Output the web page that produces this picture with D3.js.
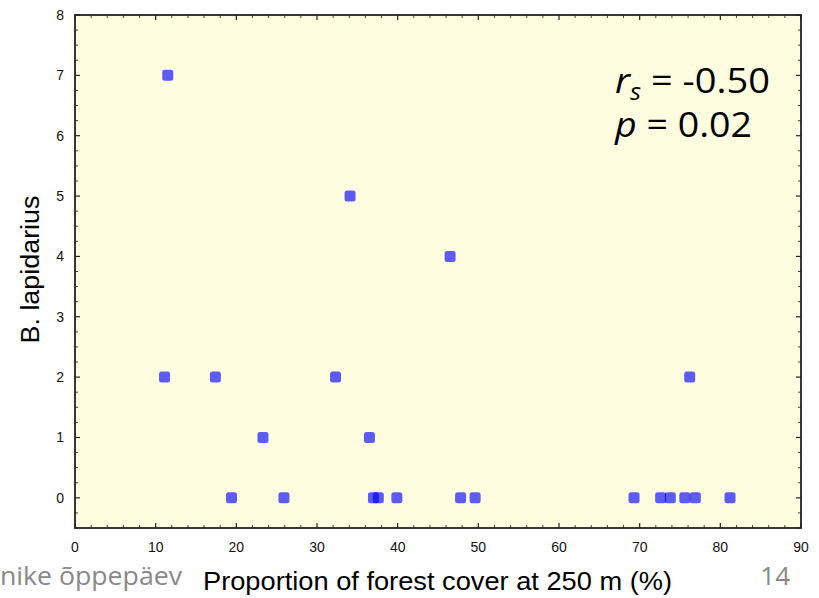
<!DOCTYPE html>
<html>
<head>
<meta charset="utf-8">
<script src="https://cdn.jsdelivr.net/npm/d3@7"></script>
<style>
  body { margin: 0; background: #fff; }
  svg { display: block; }
</style>
</head>
<body>
<div id="chart-area"></div>
<script>
// forest cover (%) vs. B. lapidarius count
var forestCover = [11.5, 11.1, 17.4, 19.4, 23.3, 25.9, 32.3, 34.1, 36.5, 37.0, 37.6, 39.9,
                   46.5, 47.8, 49.6, 69.3, 72.6, 73.8, 75.6, 76.9, 76.2, 81.2];
var lapidarius  = [7, 2, 2, 0, 1, 0, 2, 5, 1, 0, 0, 0,
                   4, 0, 0, 0, 0, 0, 0, 0, 2, 0];
var xTicks = [0, 10, 20, 30, 40, 50, 60, 70, 80, 90];
var yTicks = [0, 1, 2, 3, 4, 5, 6, 7, 8];

var width = 819, height = 598;
var margin = {top: 15, right: 18, bottom: 70, left: 75};

var svg = d3.select("#chart-area").append("svg")
     .attr("width", width)
     .attr("height", height);

var x = d3.scaleLinear()
     .domain([0, 90])
     .range([margin.left, width - margin.right]);

var y = d3.scaleLinear()
     .domain([-0.5, 8])
     .range([height - margin.bottom, margin.top]);

// plot background
svg.append("rect")
     .attr("x", x(0))
     .attr("y", y(8))
     .attr("width", x(90) - x(0))
     .attr("height", y(-0.5) - y(8))
     .attr("fill", "#fffde0");

// ticks pointing inward on all four sides
var xMinor = d3.range(0, 91, 2).filter((d) => d % 10 !== 0);
var yMinor = d3.range(-0.5, 8.01, 0.25).filter((d) => d % 1 !== 0);

function xAxis(pos, dir, labels) {
     var g = svg.append("g").attr("transform", "translate(0," + pos + ")");
     g.selectAll(".maj").data(xTicks).enter().append("line")
          .attr("x1", (d) => x(d)).attr("x2", (d) => x(d))
          .attr("y1", 0).attr("y2", dir * 5)
          .attr("stroke", "#222").attr("stroke-width", 1.2);
     g.selectAll(".min").data(xMinor).enter().append("line")
          .attr("x1", (d) => x(d)).attr("x2", (d) => x(d))
          .attr("y1", 0).attr("y2", dir * 3)
          .attr("stroke", "#444").attr("stroke-width", 1);
     if (labels) {
          g.selectAll("text").data(xTicks).enter().append("text")
               .attr("x", (d) => x(d))
               .attr("y", 24)
               .attr("text-anchor", "middle")
               .attr("font-family", "Liberation Sans, Arial, sans-serif")
               .attr("font-size", 14)
               .attr("fill", "#111")
               .text((d) => d);
     }
}

function yAxis(pos, dir, labels) {
     var g = svg.append("g").attr("transform", "translate(" + pos + ",0)");
     g.selectAll(".maj").data(yTicks).enter().append("line")
          .attr("y1", (d) => y(d)).attr("y2", (d) => y(d))
          .attr("x1", 0).attr("x2", dir * 5)
          .attr("stroke", "#222").attr("stroke-width", 1.2);
     g.selectAll(".min").data(yMinor).enter().append("line")
          .attr("y1", (d) => y(d)).attr("y2", (d) => y(d))
          .attr("x1", 0).attr("x2", dir * 3)
          .attr("stroke", "#444").attr("stroke-width", 1);
     if (labels) {
          g.selectAll("text").data(yTicks).enter().append("text")
               .attr("x", -11)
               .attr("y", (d) => y(d) + 5)
               .attr("text-anchor", "end")
               .attr("font-family", "Liberation Sans, Arial, sans-serif")
               .attr("font-size", 14)
               .attr("fill", "#111")
               .text((d) => d);
     }
}

xAxis(y(-0.5), -1, true);
xAxis(y(8), 1, false);
yAxis(x(0), 1, true);
yAxis(x(90), -1, false);

// frame
svg.append("rect")
     .attr("x", x(0))
     .attr("y", y(8))
     .attr("width", x(90) - x(0))
     .attr("height", y(-0.5) - y(8))
     .attr("fill", "none")
     .attr("stroke", "#222")
     .attr("stroke-width", 1.8);

// points
var pts = forestCover.map((d, i) => ({x: d, y: lapidarius[i]}));
svg.selectAll(".pt").data(pts).enter().append("rect")
     .attr("class", "pt")
     .attr("x", (d) => x(d.x) - 5.5)
     .attr("y", (d) => y(d.y) - 5.5)
     .attr("width", 11)
     .attr("height", 11)
     .attr("rx", 2.5)
     .attr("fill", "#0000ff")
     .attr("fill-opacity", 0.64);

// axis titles
svg.append("text")
     .attr("transform", "translate(39," + ((y(8) + y(-0.5)) / 2 - 2) + ") rotate(-90)")
     .attr("text-anchor", "middle")
     .attr("font-family", "Liberation Sans, Arial, sans-serif")
     .attr("font-size", 26)
     .attr("textLength", 148)
     .attr("lengthAdjust", "spacingAndGlyphs")
     .attr("fill", "#000")
     .text("B. lapidarius");

svg.append("text")
     .attr("x", 437.5)
     .attr("y", 590)
     .attr("text-anchor", "middle")
     .attr("font-family", "Liberation Sans, Arial, sans-serif")
     .attr("font-size", 26)
     .attr("textLength", 469)
     .attr("lengthAdjust", "spacingAndGlyphs")
     .attr("fill", "#000")
     .text("Proportion of forest cover at 250 m (%)");

// statistics annotation
var note = svg.append("g")
     .attr("font-family", "Open Sans, Noto Sans, sans-serif")
     .attr("font-size", 34)
     .attr("fill", "#000");
var l1 = note.append("text").attr("x", 615).attr("y", 93)
     .attr("textLength", 155).attr("lengthAdjust", "spacingAndGlyphs");
l1.append("tspan").attr("font-style", "italic").text("r");
l1.append("tspan").attr("font-style", "italic").attr("font-size", 23).attr("dy", 7).text("s");
l1.append("tspan").attr("dy", -7).text(" = -0.50");
var l2 = note.append("text").attr("x", 615).attr("y", 137)
     .attr("textLength", 137).attr("lengthAdjust", "spacingAndGlyphs");
l2.append("tspan").attr("font-style", "italic").text("p");
l2.append("tspan").text(" = 0.02");

// slide footer fragments
svg.append("text")
     .attr("x", 0)
     .attr("y", 585)
     .attr("font-family", "Open Sans, Noto Sans, sans-serif")
     .attr("font-size", 26)
     .attr("textLength", 182)
     .attr("lengthAdjust", "spacingAndGlyphs")
     .attr("fill", "#888")
     .text("nike õppepäev");

svg.append("text")
     .attr("x", 790)
     .attr("y", 585)
     .attr("text-anchor", "end")
     .attr("font-family", "Open Sans, Noto Sans, sans-serif")
     .attr("font-size", 26)
     .attr("fill", "#888")
     .text("14");
</script>
</body>
</html>
